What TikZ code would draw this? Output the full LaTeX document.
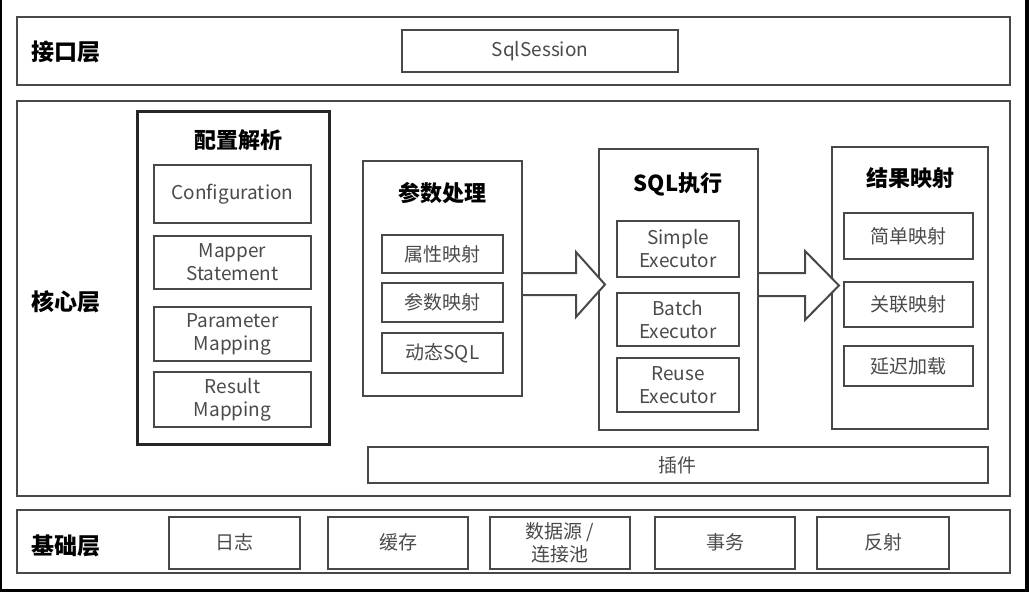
\documentclass[tikz,border=0pt]{standalone}
\usepackage{fontspec}
\setmainfont{Noto Sans CJK SC}
\usetikzlibrary{calc}
\definecolor{linegray}{HTML}{484848}
\definecolor{textgray}{HTML}{4A4A4A}

\begin{document}
\begin{tikzpicture}[x=1pt,y=-1pt]
	\tikzset{layer/.style={draw=linegray,line width=2pt,rectangle,inner sep=0pt}}
	\tikzset{group/.style={draw=linegray,line width=2pt,rectangle,inner sep=0pt}}
	\tikzset{item/.style={draw=linegray,line width=2pt,rectangle,inner sep=0pt,align=center,text=textgray,font=\fontsize{19}{23}\selectfont}}
	\tikzset{title/.style={font=\bfseries\fontsize{22}{26}\selectfont}}
	\tikzset{layertitle/.style={font=\bfseries\fontsize{23}{26}\selectfont}}
	\tikzset{bigarrow/.style={draw=linegray,line width=2pt,fill=white,line join=miter}}
	\useasboundingbox (0,0) rectangle (1029,592);
	% screenshot edges
	\fill[black] (0,0) rectangle (2,592);
	\fill[black] (1025,0) rectangle (1029,592);
	\fill[black] (0,589) rectangle (1029,592);
	% interface layer
	\node[layer,minimum width=993pt,minimum height=68pt] (api) at (513.5,51) {};
	\node[layertitle] (apilabel) at (66,52) {接口层};
	\node[item,minimum width=276pt,minimum height=42pt] (sess) at (540,51) {SqlSession};
	% core layer
	\node[layer,minimum width=993pt,minimum height=395pt] (core) at (513.5,298.5) {};
	\node[layertitle] (corelabel) at (66,302) {核心层};
	% configuration
	\node[group,draw=black!85,line width=3pt,minimum width=192pt,minimum height=333pt] (conf) at (233,277.5) {};
	\node[title] (conftitle) at (238,140) {配置解析};
	\node[item,minimum width=157pt,minimum height=58pt] (cfg) at (232.5,194) {Configuration};
	\node[item,minimum width=157pt,minimum height=53pt] (ms) at (232.5,262.5) {Mapper\\Statement};
	\node[item,minimum width=157pt,minimum height=54pt] (pm) at (232.5,334) {Parameter\\Mapping};
	\node[item,minimum width=157pt,minimum height=55pt] (rm) at (232.5,399.5) {Result\\Mapping};
	% parameters
	\node[group,minimum width=159pt,minimum height=235pt] (para) at (442.5,278.5) {};
	\node[title] (paratitle) at (442,193) {参数处理};
	\node[item,minimum width=121pt,minimum height=38pt] (attr) at (442.5,254) {属性映射};
	\node[item,minimum width=121pt,minimum height=39pt] (pmap) at (442.5,302.5) {参数映射};
	\node[item,minimum width=121pt,minimum height=40pt] (dyn) at (442.5,353) {动态SQL};
	% sql execution
	\node[group,minimum width=159pt,minimum height=281pt] (sql) at (678.5,289.5) {};
	\node[title] (sqltitle) at (678,184) {SQL执行};
	\node[item,minimum width=122pt,minimum height=56pt] (simple) at (678,249) {Simple\\Executor};
	\node[item,minimum width=122pt,minimum height=53pt] (batch) at (678,319.5) {Batch\\Executor};
	\node[item,minimum width=122pt,minimum height=54pt] (reuse) at (678,385) {Reuse\\Executor};
	% result mapping
	\node[group,minimum width=156pt,minimum height=282pt] (res) at (910,288) {};
	\node[title] (restitle) at (910,178) {结果映射};
	\node[item,minimum width=129pt,minimum height=46pt] (smap) at (908.5,236) {简单映射};
	\node[item,minimum width=129pt,minimum height=45pt] (amap) at (908.5,304.5) {关联映射};
	\node[item,minimum width=129pt,minimum height=40pt] (lazy) at (908.5,366) {延迟加载};
	% plugins
	\node[item,minimum width=620pt,minimum height=36pt] (plug) at (677.5,465) {插件};
	% arrows
	\draw[bigarrow] ($(para.east)+(0,-5.5)$) -- ($(para.east)+(53,-5.5)$) -- ($(para.east)+(53,-26.5)$)
		-- ($(sql.west)+(7,-5)$) -- ($(para.east)+(53,38.5)$) -- ($(para.east)+(53,16.5)$) -- ($(para.east)+(0,16.5)$);
	\draw[bigarrow] ($(sql.east)+(0,-16.5)$) -- ($(sql.east)+(46,-16.5)$) -- ($(sql.east)+(46,-38.5)$)
		-- ($(res.west)+(8,-2.5)$) -- ($(sql.east)+(46,30.5)$) -- ($(sql.east)+(46,6.5)$) -- ($(sql.east)+(0,6.5)$);
	% base layer
	\node[layer,minimum width=993pt,minimum height=63pt] (base) at (513.5,541.5) {};
	\node[layertitle] (baselabel) at (66,546) {基础层};
	\node[item,minimum width=131pt,minimum height=52pt] (log) at (234.5,542.5) {日志};
	\node[item,minimum width=140pt,minimum height=52pt] (cache) at (398,542.5) {缓存};
	\node[item,minimum width=140pt,minimum height=52pt] (ds) at (560,542.5) {数据源 /\\连接池};
	\node[item,minimum width=140pt,minimum height=52pt] (tx) at (725,542.5) {事务};
	\node[item,minimum width=132pt,minimum height=52pt] (refl) at (883,542.5) {反射};
\end{tikzpicture}
\end{document}
